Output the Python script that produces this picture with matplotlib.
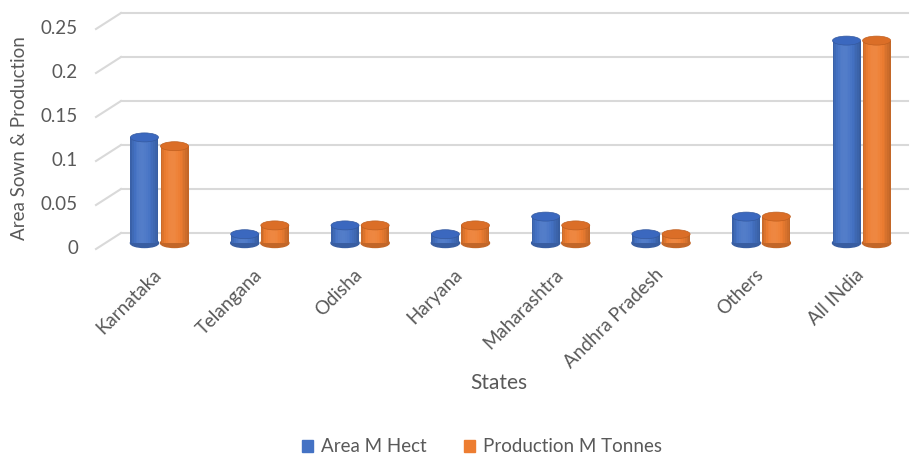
import matplotlib
matplotlib.use("Agg")
import matplotlib.pyplot as plt
from matplotlib.patches import Ellipse, Patch
import numpy as np

states = ["Karnataka", "Telangana", "Odisha", "Haryana", "Maharashtra",
          "Andhra Pradesh", "Others", "All INdia"]
area = [0.12, 0.01, 0.02, 0.01, 0.03, 0.01, 0.03, 0.23]
production = [0.11, 0.02, 0.02, 0.02, 0.02, 0.01, 0.03, 0.23]
yticks = [0, 0.05, 0.1, 0.15, 0.2, 0.25]
ytick_labels = ["0", "0.05", "0.1", "0.15", "0.2", "0.25"]

plt.rcParams["font.family"] = ["Lato", "DejaVu Sans"]
grey = "#595959"

fig = plt.figure(figsize=(9.15, 4.57), dpi=100)
# pixel layout of the fake 3d plot area
px_per_val = 880.0
ax = fig.add_axes([90 / 915, (457 - 262) / 457, 820 / 915, 257 / 457])
ax.set_xlim((90 - 160) / 100.3, (910 - 160) / 100.3)
ax.set_ylim((243 - 262) / px_per_val, (243 - 5) / px_per_val)
ax.axis("off")

back_dy = 10 / px_per_val
front_dy = -6 / px_per_val
x_front = (96 - 160) / 100.3
x_back = (121 - 160) / 100.3
x_end = (908 - 160) / 100.3

# back wall gridlines + floor diagonals
for v, lab in zip(yticks, ytick_labels):
    ax.plot([x_back, x_end], [v + back_dy, v + back_dy], color="#D9D9D9", lw=1.5, zorder=1)
    ax.plot([x_front, x_back], [v + front_dy, v + back_dy], color="#D9D9D9", lw=1.5, zorder=1)
    ax.text(x_front - 0.18, v + front_dy, lab, ha="right", va="center",
            fontsize=13.5, color=grey)


def shade(rgb, f):
    rgb = np.array(matplotlib.colors.to_rgb(rgb))
    if f < 1:
        return tuple(rgb * f)
    return tuple(rgb + (1 - rgb) * (f - 1))


def cylinder(xc, val, width, base, top, dark):
    eh = 9 / px_per_val
    ax.add_patch(Ellipse((xc, 0), width, eh, color=shade(base, 0.82), zorder=2))
    n = 16
    edges = np.linspace(xc - width / 2, xc + width / 2, n + 1)
    for k in range(n):
        t = (k + 0.5) / n
        f = 0.8 + 0.28 * np.sin(np.pi * t ** 0.8)
        ax.bar((edges[k] + edges[k + 1]) / 2, val, width=edges[k + 1] - edges[k],
               color=shade(base, f), linewidth=0, zorder=3)
    ax.add_patch(Ellipse((xc, val), width, eh, facecolor=top, edgecolor=dark,
                         lw=0.5, zorder=4))


w = 0.28
for i in range(len(states)):
    cylinder(i - 0.155, area[i], w, "#4472C4", "#3B68BF", "#34599F")
    cylinder(i + 0.145, production[i], w, "#ED7D31", "#DB6E27", "#C05F1F")
    ax.text(i - 0.07, (243 - 266) / px_per_val, states[i], rotation=45,
            rotation_mode="anchor", ha="right", va="top", fontsize=13.5, color=grey)

fig.text(499 / 915, 1 - 383 / 457, "States", ha="center", va="center",
         fontsize=15, color=grey)
fig.text(20 / 915, 1 - 138 / 457, "Area Sown & Production", rotation=90,
         ha="center", va="center", fontsize=13.5, color=grey)

handles = [Patch(color="#4472C4", label="Area M Hect"),
           Patch(color="#ED7D31", label="Production M Tonnes")]
fig.legend(handles=handles, loc="center", bbox_to_anchor=(482 / 915, 1 - 447 / 457),
           ncol=2, frameon=False, fontsize=13.5, labelcolor=grey,
           handlelength=0.6, handleheight=0.6, handletextpad=0.4, columnspacing=2.0)

fig.savefig("out.png", dpi=100)
